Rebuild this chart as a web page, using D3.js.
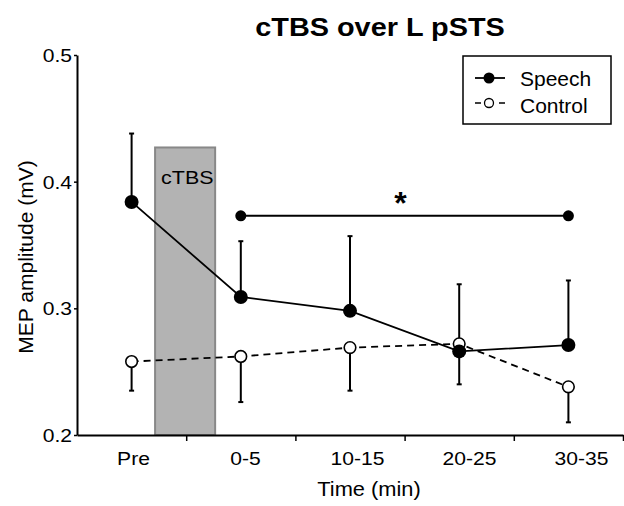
<!DOCTYPE html>
<html>
<head>
<meta charset="utf-8">
<script src="https://cdn.jsdelivr.net/npm/d3@7"></script>
<style>
  body { margin: 0; background: #fff; }
  svg { display: block; font-family: "Liberation Sans", Arial, sans-serif; }
</style>
</head>
<body>
<script>
// data
const timepoints = ["Pre", "0-5", "10-15", "20-25", "30-35"];
const speechMean = [0.384, 0.309, 0.298, 0.266, 0.271];
const speechSem = [0.054, 0.044, 0.059, 0.026, 0.051];
const speechDir = [1, 1, 1, -1, 1];   // error bar drawn up (1) or down (-1)
const controlMean = [0.258, 0.262, 0.269, 0.272, 0.238];
const controlSem = [0.023, 0.036, 0.034, 0.047, 0.028];
const controlDir = [-1, -1, -1, 1, -1];
const yTicks = [0.2, 0.3, 0.4, 0.5];
const stimBlock = [0.715, 1.265, 0.427]; // start, end (in slot units), top (mV)
const sigFrom = "0-5", sigTo = "30-35", sigLevel = 0.373;

const width = 624, height = 506;
const plotLeft = 77, plotRight = 623, plotTop = 55, plotBottom = 435;

const svg = d3.select("body").append("svg")
  .attr("width", width)
  .attr("height", height);

const x = d3.scaleBand().domain(timepoints).range([plotLeft, plotRight]);
const xEdge = d3.scaleLinear().domain([0, timepoints.length]).range([plotLeft, plotRight]);
const xLabel = d3.scalePoint().domain(timepoints).range([133, 581]);
const y = d3.scaleLinear().domain([0.2, 0.5]).range([plotBottom, plotTop]);
const cx = (d) => x(d) + x.bandwidth() / 2;

// stretch text sideways a bit, the source looks horizontally scaled
function stretch(sel, k) {
  sel.each(function () {
    const t = d3.select(this);
    const tx = +t.attr("x") || 0, ty = +t.attr("y") || 0;
    t.attr("x", 0).attr("y", 0)
      .attr("transform", `translate(${tx},${ty}) scale(${k},1)`);
  });
}

// title
svg.append("text")
  .attr("x", 380).attr("y", 36)
  .attr("text-anchor", "middle")
  .style("font-size", "26px").style("font-weight", "bold")
  .text("cTBS over L pSTS")
  .call(stretch, 1.11);

// cTBS block
svg.append("rect")
  .attr("x", xEdge(stimBlock[0]))
  .attr("width", xEdge(stimBlock[1]) - xEdge(stimBlock[0]))
  .attr("y", y(stimBlock[2]))
  .attr("height", y(0.2) - y(stimBlock[2]))
  .attr("fill", "#b3b3b3")
  .attr("stroke", "#888")
  .attr("stroke-width", 2);

svg.append("text")
  .attr("x", xEdge(stimBlock[0]) + 6).attr("y", 184)
  .style("font-size", "19px")
  .text("cTBS")
  .call(stretch, 1.13);

// axes
const yAxis = d3.axisLeft(y).tickValues(yTicks).tickFormat(d3.format(".1f"))
  .tickSize(3).tickSizeOuter(0);
const gy = svg.append("g").attr("transform", `translate(${plotLeft},0)`).call(yAxis);
gy.select(".domain").attr("stroke-width", 2);
gy.selectAll(".tick line").attr("stroke-width", 1.5);
gy.selectAll(".tick text")
  .attr("dy", "0.35em")
  .style("font-size", "18.5px").attr("font-family", null)
  .attr("transform", "scale(1.14,1)").attr("x", -5 / 1.14);

const xAxis = d3.axisBottom(xEdge).tickValues([1, 2, 3, 4, 5]).tickFormat("")
  .tickSize(6).tickSizeOuter(0);
const gx = svg.append("g").attr("transform", `translate(0,${plotBottom})`).call(xAxis);
gx.select(".domain").attr("stroke-width", 2);
gx.selectAll(".tick line").attr("stroke-width", 1.5);

const gl = svg.append("g").attr("transform", `translate(0,${plotBottom})`)
  .call(d3.axisBottom(xLabel).tickSize(0));
gl.select(".domain").remove();
gl.selectAll(".tick text")
  .attr("y", 0).attr("dy", null)
  .attr("font-family", null)
  .style("font-size", "18.5px")
  .attr("transform", "translate(0,30) scale(1.14,1)");

svg.append("text")
  .attr("x", 369).attr("y", 496)
  .attr("text-anchor", "middle")
  .style("font-size", "19.5px")
  .text("Time (min)")
  .call(stretch, 1.12);

svg.append("text")
  .attr("transform", `translate(33,257) rotate(-90)`)
  .attr("text-anchor", "middle")
  .style("font-size", "21px")
  .text("MEP amplitude (mV)");

// significance bracket
svg.append("line")
  .attr("x1", cx(sigFrom)).attr("x2", cx(sigTo))
  .attr("y1", y(sigLevel)).attr("y2", y(sigLevel))
  .attr("stroke", "#000").attr("stroke-width", 2);
svg.selectAll(".sigdot").data([sigFrom, sigTo]).enter().append("circle")
  .attr("cx", cx).attr("cy", y(sigLevel)).attr("r", 5.5).attr("fill", "#000");
svg.append("text")
  .attr("x", (cx(sigFrom) + cx(sigTo)) / 2 - 4).attr("y", y(sigLevel) - 2)
  .attr("text-anchor", "middle")
  .style("font-size", "32px").style("font-weight", "bold")
  .text("*");

// series
const control = timepoints.map((t, i) => ({ t, m: controlMean[i], e: controlSem[i] * controlDir[i] }));
const speech = timepoints.map((t, i) => ({ t, m: speechMean[i], e: speechSem[i] * speechDir[i] }));

const line = d3.line().x((d) => cx(d.t)).y((d) => y(d.m));

function errorBars(data) {
  const g = svg.append("g").attr("stroke", "#000").attr("stroke-width", 2);
  g.selectAll("line.bar").data(data).enter().append("line")
    .attr("x1", (d) => cx(d.t)).attr("x2", (d) => cx(d.t))
    .attr("y1", (d) => y(d.m)).attr("y2", (d) => y(d.m + d.e));
  g.selectAll("line.cap").data(data).enter().append("line")
    .attr("x1", (d) => cx(d.t) - 2.5).attr("x2", (d) => cx(d.t) + 2.5)
    .attr("y1", (d) => y(d.m + d.e)).attr("y2", (d) => y(d.m + d.e));
}

errorBars(control);
errorBars(speech);

svg.append("path").datum(control)
  .attr("d", line).attr("fill", "none")
  .attr("stroke", "#000").attr("stroke-width", 1.8)
  .attr("stroke-dasharray", "7,5");
svg.append("path").datum(speech)
  .attr("d", line).attr("fill", "none")
  .attr("stroke", "#000").attr("stroke-width", 1.8);

svg.selectAll(".ctrl").data(control).enter().append("circle")
  .attr("cx", (d) => cx(d.t)).attr("cy", (d) => y(d.m))
  .attr("r", 5.8).attr("fill", "#fff")
  .attr("stroke", "#000").attr("stroke-width", 1.6);
svg.selectAll(".sp").data(speech).enter().append("circle")
  .attr("cx", (d) => cx(d.t)).attr("cy", (d) => y(d.m))
  .attr("r", 7).attr("fill", "#000");

// legend
const legend = svg.append("g").attr("transform", "translate(463,56)");
legend.append("rect")
  .attr("width", 148).attr("height", 68)
  .attr("fill", "#fff").attr("stroke", "#000").attr("stroke-width", 1.5);
legend.append("line").attr("x1", 12).attr("x2", 42).attr("y1", 22).attr("y2", 22)
  .attr("stroke", "#000").attr("stroke-width", 1.8);
legend.append("circle").attr("cx", 26).attr("cy", 22).attr("r", 5.5).attr("fill", "#000");
legend.append("line").attr("x1", 12).attr("x2", 42).attr("y1", 47).attr("y2", 47)
  .attr("stroke", "#000").attr("stroke-width", 1.5).attr("stroke-dasharray", "6,18");
legend.append("circle").attr("cx", 26).attr("cy", 47).attr("r", 4.5)
  .attr("fill", "#fff").attr("stroke", "#000").attr("stroke-width", 1.3);
legend.selectAll(".lt").data(["Speech", "Control"]).enter().append("text")
  .attr("x", 57).attr("y", (d, i) => 30 + i * 27)
  .style("font-size", "21px")
  .text((d) => d);
</script>
</body>
</html>
